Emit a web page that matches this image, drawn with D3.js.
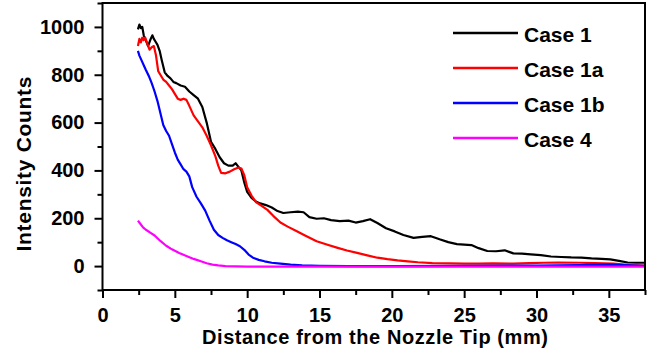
<!DOCTYPE html>
<html>
<head>
<meta charset="utf-8">
<script src="https://cdn.jsdelivr.net/npm/d3@7"></script>
<style>
  body { margin: 0; background: #fff; }
  text { font-family: "Liberation Sans", Arial, sans-serif; font-weight: bold; fill: #000; }
</style>
</head>
<body>
<div id="chart"></div>
<script>
// data (distance in mm, intensity counts)
var seriesNames = ["Case 1", "Case 1a", "Case 1b", "Case 4"];
var seriesColors = ["#000000", "#ff0000", "#0000ff", "#ff00ff"];

var case1X = [2.45, 2.55, 2.65, 2.75, 2.85, 2.95, 3.05, 3.15, 3.3, 3.45, 3.55, 3.65, 3.8, 3.95, 4.1, 4.3, 4.5, 4.7, 4.9, 5.1, 5.4, 5.7, 6.0, 6.3, 6.6, 6.9, 7.2, 7.5, 7.8, 8.1, 8.4, 8.7, 9.0, 9.2, 9.4, 9.6, 9.8, 10.0, 10.3, 10.6, 10.9, 11.3, 11.7, 12.1, 12.5, 13.0, 13.5, 13.9, 14.3, 14.8, 15.3, 15.8, 16.4, 17.0, 17.5, 18.0, 18.5, 19.0, 19.6, 20.2, 20.8, 21.5, 22.1, 22.7, 23.3, 23.9, 24.5, 25.0, 25.5, 26.0, 26.6, 27.2, 27.8, 28.4, 29.0, 29.6, 30.3, 31.0, 31.7, 32.4, 33.1, 33.8, 34.5, 35.1, 35.7, 36.3, 36.9, 37.5];
var case1Y = [990, 1010, 995, 1000, 965, 950, 935, 920, 945, 965, 950, 940, 925, 900, 860, 810, 795, 785, 770, 765, 755, 750, 730, 715, 700, 665, 600, 520, 490, 455, 430, 420, 420, 430, 415, 400, 350, 310, 285, 270, 262, 255, 245, 230, 222, 225, 228, 225, 205, 198, 200, 192, 188, 190, 182, 188, 196, 180, 158, 145, 130, 118, 122, 125, 112, 100, 92, 90, 88, 75, 63, 62, 66, 53, 52, 49, 46, 40, 38, 36, 35, 32, 30, 28, 22, 15, 14, 14];

var case1aX = [2.45, 2.55, 2.65, 2.75, 2.85, 2.95, 3.1, 3.25, 3.4, 3.55, 3.7, 3.85, 4.0, 4.2, 4.4, 4.6, 4.8, 5.0, 5.2, 5.4, 5.6, 5.8, 6.0, 6.3, 6.6, 6.9, 7.2, 7.5, 7.8, 8.0, 8.2, 8.5, 8.8, 9.1, 9.4, 9.6, 9.8, 10.0, 10.3, 10.6, 11.0, 11.4, 11.8, 12.3, 12.8, 13.4, 14.0, 14.8, 15.5, 16.2, 16.9, 17.6, 18.3, 19.0, 19.7, 20.4, 21.1, 21.8, 22.8, 24.0, 25.0, 26.0, 27.0, 28.4, 29.5, 30.5, 31.5, 33.0, 34.0, 35.3, 36.5, 37.5];
var case1aY = [920, 950, 935, 955, 945, 955, 930, 905, 915, 920, 880, 815, 800, 780, 770, 755, 740, 720, 700, 695, 700, 695, 670, 630, 605, 580, 545, 505, 460, 420, 390, 388, 395, 405, 412, 408, 380, 330, 295, 268, 252, 235, 210, 182, 165, 147, 128, 104, 90, 77, 65, 55, 45, 35, 29, 24, 20, 16, 12, 11, 10, 10, 11, 10, 12, 14, 15, 14, 12, 10, 4, 2];

var case1bX = [2.45, 2.55, 2.7, 2.85, 3.0, 3.2, 3.4, 3.6, 3.8, 4.0, 4.2, 4.4, 4.6, 4.8, 5.0, 5.2, 5.4, 5.6, 5.8, 6.0, 6.2, 6.5, 6.8, 7.1, 7.4, 7.7, 8.0, 8.3, 8.6, 8.9, 9.2, 9.5, 9.8, 10.1, 10.4, 10.8, 11.2, 11.7, 12.3, 13.0, 13.8, 15.0, 17.0, 20.0, 25.0, 30.0, 33.0, 35.0, 36.5, 37.5];
var case1bY = [900, 880, 860, 840, 820, 795, 765, 730, 690, 640, 590, 565, 545, 510, 475, 445, 425, 405, 395, 375, 330, 290, 262, 232, 190, 152, 130, 118, 108, 100, 92, 83, 68, 48, 35, 26, 20, 14, 10, 6, 3, 1, 0, 0, 1, 2, 4, 6, 3, 1];

var case4X = [2.45, 2.6, 2.8, 3.0, 3.3, 3.6, 4.0, 4.4, 4.8, 5.3, 5.8, 6.3, 6.8, 7.2, 7.6, 8.0, 8.5, 10.0, 15.0, 20.0, 25.0, 30.0, 35.0, 37.5];
var case4Y = [190, 178, 162, 152, 140, 128, 105, 85, 70, 55, 42, 30, 20, 12, 6, 3, 0, -2, -2, -2, -2, -2, -2, -2];

var xMajor = [0, 5, 10, 15, 20, 25, 30, 35];
var xMinor = [2.5, 7.5, 12.5, 17.5, 22.5, 27.5, 32.5, 37.5];
var yMajor = [0, 200, 400, 600, 800, 1000];
var yMinor = [-100, 100, 300, 500, 700, 900, 1100];

var W = 648, H = 351;
var plotLeft = 102.5, plotRight = 645, plotTop = 3, plotBottom = 290;

var svg = d3.select("#chart").append("svg")
    .attr("width", W)
    .attr("height", H)
    .style("display", "block");

svg.append("rect").attr("width", W).attr("height", H).attr("fill", "#fff");

var x = d3.scaleLinear().domain([0, 37.5]).range([plotLeft, plotRight]);
var y = d3.scaleLinear().domain([-100, 1100]).range([plotBottom, plotTop]);

svg.append("clipPath").attr("id", "plotclip")
  .append("rect")
    .attr("x", plotLeft).attr("y", plotTop)
    .attr("width", plotRight - plotLeft).attr("height", plotBottom - plotTop);

// minor ticks
svg.append("g")
    .attr("transform", "translate(0," + plotBottom + ")")
    .call(d3.axisBottom(x).tickValues(xMinor).tickSize(5).tickFormat(""))
    .call(function(g){ g.select(".domain").remove(); })
    .selectAll("line").attr("stroke-width", 2);
svg.append("g")
    .attr("transform", "translate(" + plotLeft + ",0)")
    .call(d3.axisLeft(y).tickValues(yMinor).tickSize(5).tickFormat(""))
    .call(function(g){ g.select(".domain").remove(); })
    .selectAll("line").attr("stroke-width", 2);

// major ticks
var xAxis = svg.append("g")
    .attr("transform", "translate(0," + plotBottom + ")")
    .call(d3.axisBottom(x).tickValues(xMajor).tickSize(8).tickPadding(10).tickFormat(d3.format("d")));
xAxis.select(".domain").remove();
xAxis.selectAll("line").attr("stroke-width", 2);
xAxis.attr("font-size", null).attr("font-family", null);
xAxis.selectAll("text").style("font-size", "20px");

var yAxis = svg.append("g")
    .attr("transform", "translate(" + plotLeft + ",0)")
    .call(d3.axisLeft(y).tickValues(yMajor).tickSize(8).tickPadding(10).tickFormat(d3.format("d")));
yAxis.select(".domain").remove();
yAxis.selectAll("line").attr("stroke-width", 2);
yAxis.attr("font-size", null).attr("font-family", null);
yAxis.selectAll("text").style("font-size", "20px");

// lines
var seriesX = [case1X, case1aX, case1bX, case4X];
var seriesY = [case1Y, case1aY, case1bY, case4Y];
var line = d3.line()
    .x(function(d){ return x(d[0]); })
    .y(function(d){ return y(d[1]); });

var plot = svg.append("g").attr("clip-path", "url(#plotclip)");
seriesNames.forEach(function(name, i){
  var pts = seriesX[i].map(function(v, j){ return [v, seriesY[i][j]]; });
  plot.append("path")
    .datum(pts)
    .attr("fill", "none")
    .attr("stroke", seriesColors[i])
    .attr("stroke-width", 2.2)
    .attr("stroke-linejoin", "round")
    .attr("d", line);
});

// frame
svg.append("rect")
    .attr("x", plotLeft).attr("y", plotTop)
    .attr("width", plotRight - plotLeft).attr("height", plotBottom - plotTop)
    .attr("fill", "none")
    .attr("stroke", "#000")
    .attr("stroke-width", 2);

// legend
var legend = svg.append("g");
seriesNames.forEach(function(name, i){
  var ly = 33 + i * 35;
  legend.append("line")
    .attr("x1", 453).attr("x2", 518)
    .attr("y1", ly).attr("y2", ly)
    .attr("stroke", seriesColors[i])
    .attr("stroke-width", 2.5);
  legend.append("text")
    .attr("x", 524).attr("y", ly + 9)
    .style("font-size", "21px")
    .text(name);
});

// axis titles
svg.append("text")
    .attr("x", 375).attr("y", 344)
    .attr("text-anchor", "middle")
    .style("font-size", "20px")
    .attr("textLength", 346)
    .text("Distance from the Nozzle Tip (mm)");

svg.append("text")
    .attr("transform", "translate(31,164) rotate(-90)")
    .attr("text-anchor", "middle")
    .style("font-size", "21px")
    .attr("textLength", 175)
    .text("Intensity Counts");
</script>
</body>
</html>
